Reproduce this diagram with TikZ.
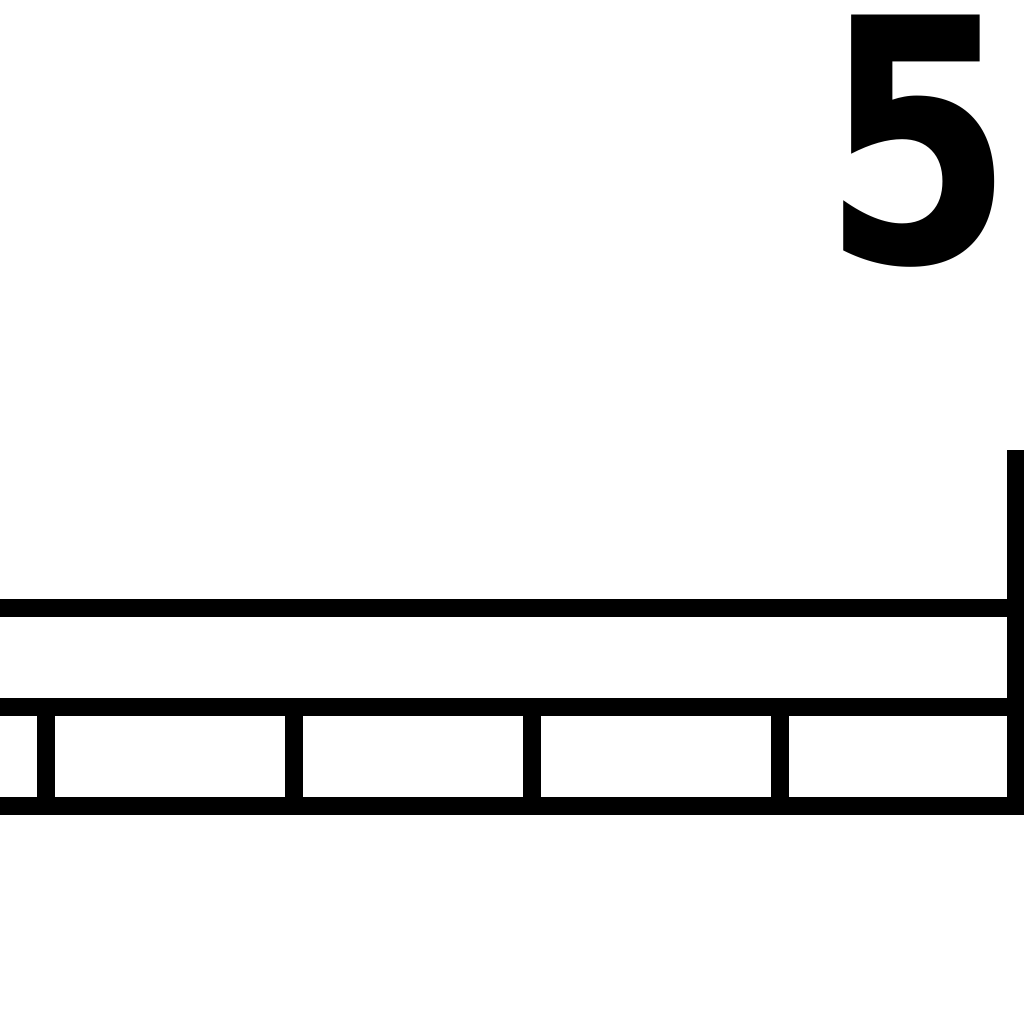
\documentclass[tikz,border=0pt]{standalone}
\usepackage{fontspec}
\newfontfamily\digitfont{DejaVu Sans}
\begin{document}
\begin{tikzpicture}[x=1cm,y=1cm,
  bar/.style={line width=0.18cm, black, line cap=butt}]
\useasboundingbox (0,0) rectangle (10.24,10.24);
\fill[white] (0,0) rectangle (10.24,10.24);
\coordinate (l1a) at (0,4.155);
\coordinate (l1b) at (10.07,4.155);
\coordinate (l2a) at (0,3.17);
\coordinate (l2b) at (10.24,3.17);
\coordinate (l3a) at (0,2.18);
\coordinate (l3b) at (10.24,2.18);
\coordinate (vt) at (10.155,5.74);
\coordinate (vb) at (10.155,2.09);
\draw[bar] (l1a) -- (l1b);
\draw[bar] (l2a) -- (l2b);
\draw[bar] (l3a) -- (l3b);
\draw[bar] (vt) -- (vb);
\foreach \x/\n in {0.46/t1,2.94/t2,5.32/t3,7.80/t4}{
  \coordinate (\n a) at (\x,3.17);
  \coordinate (\n b) at (\x,2.18);
  \draw[bar] (\n a) -- (\n b);
}
\node[inner sep=0pt, xscale=0.81] (five) at (9.18,8.83) {\digitfont\bfseries\fontsize{96.6}{96.6}\selectfont 5};
\end{tikzpicture}
\end{document}
